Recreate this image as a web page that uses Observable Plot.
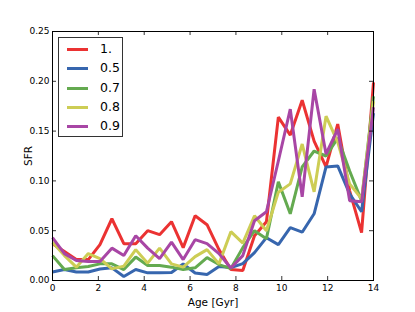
<!DOCTYPE html>
<html>
<head>
<meta charset="utf-8">
<script src="https://cdn.jsdelivr.net/npm/d3@7"></script>
<script src="https://cdn.jsdelivr.net/npm/@observablehq/plot@0.6"></script>
<style>
  html, body { margin: 0; padding: 0; background: white; }
  #wrap { position: relative; width: 415px; height: 312px; }
  #legend { position: absolute; left: 58px; top: 37px; width: 65px; height: 100px; border: 1px solid #333; background: white; font-family: "DejaVu Sans", sans-serif; font-size: 12.5px; box-sizing: border-box; }
  .row { position: absolute; left: 0; height: 19px; width: 64px; }
  .sw { position: absolute; left: 8px; width: 21px; height: 3px; top: 8px; }
  .lab { position: absolute; left: 41px; top: 1px; line-height: 16px; color: #000; }
  g[aria-label="x-axis label"] text, g[aria-label="y-axis label"] text { font-size: 10.5px; }
</style>
</head>
<body>
<div id="wrap"><div id="chart"></div><div id="legend"></div></div>
<script>
const ages = [0, 0.52, 1.04, 1.56, 2.07, 2.59, 3.11, 3.63, 4.15, 4.67, 5.19, 5.70, 6.22, 6.74,
  7.26, 7.78, 8.30, 8.81, 9.33, 9.85, 10.37, 10.89, 11.41, 11.93, 12.44, 12.96, 13.48, 14.0];

const sfr_1 = [0.037, 0.029, 0.021, 0.021, 0.036, 0.062, 0.037, 0.037, 0.050, 0.046, 0.059, 0.033, 0.065, 0.056,
  0.031, 0.011, 0.010, 0.045, 0.059, 0.164, 0.146, 0.181, 0.140, 0.114, 0.157, 0.090, 0.048, 0.199];
const sfr_05 = [0.0085, 0.011, 0.0085, 0.0085, 0.0115, 0.0127, 0.004, 0.011, 0.0077, 0.0077, 0.008, 0.0165, 0.0075, 0.006,
  0.014, 0.013, 0.017, 0.028, 0.043, 0.036, 0.053, 0.0485, 0.067, 0.114, 0.115, 0.087, 0.069, 0.168];
const sfr_07 = [0.025, 0.011, 0.0127, 0.014, 0.0167, 0.0167, 0.011, 0.0235, 0.015, 0.015, 0.0134, 0.011, 0.0127, 0.023,
  0.016, 0.012, 0.033, 0.050, 0.042, 0.099, 0.067, 0.114, 0.130, 0.125, 0.143, 0.110, 0.080, 0.185];
const sfr_08 = [0.0385, 0.025, 0.0134, 0.027, 0.022, 0.0117, 0.0144, 0.031, 0.0174, 0.0325, 0.0167, 0.0134, 0.024, 0.031,
  0.0167, 0.049, 0.0375, 0.065, 0.050, 0.0887, 0.097, 0.137, 0.089, 0.165, 0.139, 0.097, 0.082, 0.180];
const sfr_09 = [0.043, 0.027, 0.020, 0.019, 0.019, 0.0325, 0.025, 0.045, 0.0325, 0.022, 0.0385, 0.021, 0.041, 0.037,
  0.027, 0.0125, 0.025, 0.060, 0.069, 0.120, 0.172, 0.084, 0.192, 0.127, 0.152, 0.080, 0.079, 0.174];

const seriesNames = ["1.", "0.5", "0.7", "0.8", "0.9"];
const seriesColors = ["#eb3232", "#3766ae", "#64aa50", "#cdcd55", "#a846a5"];
const xTicks = [0, 2, 4, 6, 8, 10, 12, 14];
const yTicks = [0, 0.05, 0.10, 0.15, 0.20, 0.25];

const seriesValues = [sfr_1, sfr_05, sfr_07, sfr_08, sfr_09];
const data = [];
seriesNames.forEach((name, k) => {
  seriesValues[k].forEach((v, i) => data.push({series: name, age: ages[i], sfr: v}));
});

const W = 415, H = 312, mL = 52, mR = 42, mT = 31, mB = 32;
const fw = W - mL - mR, fh = H - mT - mB, tl = 4;

const chart = Plot.plot({
  width: W, height: H,
  marginLeft: mL, marginRight: mR, marginTop: mT, marginBottom: mB,
  style: {fontFamily: "DejaVu Sans, sans-serif", fontSize: "9px", background: "white", color: "#000"},
  x: {domain: [0, 14]},
  y: {domain: [0, 0.25]},
  color: {domain: seriesNames, range: seriesColors},
  marks: [
    Plot.line(data, {x: "age", y: "sfr", z: "series", stroke: "series", strokeWidth: 3, strokeLinejoin: "miter", strokeLinecap: "butt"}),
    Plot.tickX(xTicks, {x: d => d, insetTop: fh - tl, stroke: "#000", strokeWidth: 0.8}),
    Plot.tickX(xTicks, {x: d => d, insetBottom: fh - tl, stroke: "#000", strokeWidth: 0.8}),
    Plot.tickY(yTicks, {y: d => d, insetRight: fw - tl, stroke: "#000", strokeWidth: 0.8}),
    Plot.tickY(yTicks, {y: d => d, insetLeft: fw - tl, stroke: "#000", strokeWidth: 0.8}),
    Plot.frame({stroke: "#000", strokeWidth: 1}),
    Plot.axisX(xTicks, {tickSize: 0, tickPadding: 4, label: "Age [Gyr]", labelAnchor: "center", labelOffset: 25, labelArrow: "none"}),
    Plot.axisY(yTicks, {tickSize: 0, tickPadding: 3, tickFormat: d3.format(".2f"), label: "SFR", labelAnchor: "center", labelOffset: 28, labelArrow: "none"})
  ]
});
document.getElementById("chart").appendChild(chart);

const legend = document.getElementById("legend");
seriesNames.forEach((name, k) => {
  const row = document.createElement("div");
  row.className = "row";
  row.style.top = (2 + k * 19.3) + "px";
  const sw = document.createElement("div");
  sw.className = "sw";
  sw.style.background = seriesColors[k];
  const lab = document.createElement("div");
  lab.className = "lab";
  lab.textContent = name;
  row.appendChild(sw);
  row.appendChild(lab);
  legend.appendChild(row);
});
</script>
</body>
</html>
